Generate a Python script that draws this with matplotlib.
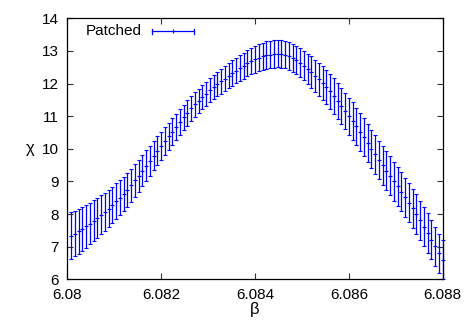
import numpy as np
import matplotlib
matplotlib.use("Agg")
import matplotlib.pyplot as plt
from matplotlib.lines import Line2D

# ---- data ----
beta_start = 6.08008
beta_step = 0.00008
chi = [7.33, 7.40, 7.47, 7.55, 7.63, 7.71, 7.80, 7.88, 7.98, 8.07,
       8.17, 8.28, 8.39, 8.50, 8.61, 8.73, 8.88, 9.03, 9.18, 9.33,
       9.48, 9.63, 9.79, 9.94, 10.09, 10.24, 10.38, 10.52, 10.67, 10.82,
       10.96, 11.10, 11.24, 11.36, 11.47, 11.58, 11.68, 11.79, 11.89, 11.98,
       12.07, 12.15, 12.24, 12.32, 12.40, 12.47, 12.55, 12.62, 12.68, 12.74,
       12.79, 12.83, 12.87, 12.89, 12.91, 12.92, 12.91, 12.89, 12.85, 12.79,
       12.72, 12.64, 12.55, 12.45, 12.35, 12.24, 12.13, 12.02, 11.89, 11.76,
       11.61, 11.46, 11.31, 11.16, 11.00, 10.85, 10.69, 10.52, 10.35, 10.17,
       10.00, 9.83, 9.66, 9.49, 9.33, 9.17, 9.01, 8.85, 8.68, 8.52,
       8.35, 8.18, 8.00, 7.81, 7.61, 7.42, 7.21, 7.01, 6.80, 6.60]
chi_err = [0.72, 0.70, 0.69, 0.67, 0.66, 0.64, 0.63, 0.61, 0.60, 0.59,
           0.58, 0.56, 0.55, 0.54, 0.53, 0.52, 0.51, 0.50, 0.49, 0.48,
           0.47, 0.46, 0.45, 0.44, 0.43, 0.42, 0.42, 0.41, 0.40, 0.40,
           0.39, 0.39, 0.38, 0.38, 0.37, 0.37, 0.37, 0.37, 0.37, 0.37,
           0.38, 0.38, 0.38, 0.39, 0.39, 0.39, 0.40, 0.40, 0.40, 0.41,
           0.41, 0.41, 0.42, 0.42, 0.42, 0.42, 0.42, 0.42, 0.43, 0.43,
           0.43, 0.44, 0.45, 0.46, 0.48, 0.49, 0.51, 0.52, 0.53, 0.54,
           0.55, 0.55, 0.56, 0.56, 0.57, 0.57, 0.57, 0.58, 0.58, 0.58,
           0.59, 0.59, 0.59, 0.59, 0.60, 0.60, 0.60, 0.60, 0.60, 0.60,
           0.60, 0.60, 0.60, 0.60, 0.60, 0.60, 0.60, 0.60, 0.60, 0.60]
beta = beta_start + beta_step * np.arange(len(chi))

xticks = [6.08, 6.082, 6.084, 6.086, 6.088]
xtick_labels = ["6.08", "6.082", "6.084", "6.086", "6.088"]
yticks = [6, 7, 8, 9, 10, 11, 12, 13, 14]
series_label = "Patched"

plt.rcParams['font.family'] = ['Liberation Sans', 'DejaVu Sans']

W, H = 471, 330
fig = plt.figure(figsize=(W / 100, H / 100), dpi=100)
ax = fig.add_axes([67.3 / W, 1 - 279.3 / H, (442.7 - 67.3) / W, (279.3 - 18.3) / H])

blue = '#0000ff'
ax.errorbar(beta, chi, yerr=chi_err, fmt='+', color=blue, ms=3.5, mew=0.8,
            elinewidth=0.9, capsize=1.7, capthick=0.9, clip_on=False)

ax.set_xlim(6.08, 6.088)
ax.set_ylim(6, 14)
ax.set_xticks(xticks)
ax.set_xticklabels(xtick_labels)
ax.set_yticks(yticks)
ax.tick_params(direction='in', length=4, width=0.8, top=True, right=True,
               labelsize=11, pad=6, color='#333333')
for s in ax.spines.values():
    s.set_linewidth(0.9)
    s.set_color('black')

ax.set_xlabel('β', fontsize=12)
ax.xaxis.set_label_coords(0.5, -0.088)
ax.set_ylabel('χ', fontsize=12, rotation=0, va='center', ha='center')
ax.yaxis.set_label_coords(-0.099, 0.5)

# gnuplot-style key at top left
ax.text((141.7 - 67.3) / 375.4, (279.3 - 31) / 261, series_label, transform=ax.transAxes,
        ha='right', va='center', fontsize=11)
x0 = (152.3 - 67.3) / 375.4
x1 = (194.3 - 67.3) / 375.4
yk = (279.3 - 31) / 261
cap = 2.5 / 261
ax.add_line(Line2D([x0, x1], [yk, yk], transform=ax.transAxes, color=blue, lw=0.9))
for xx in (x0, x1):
    ax.add_line(Line2D([xx, xx], [yk - cap, yk + cap], transform=ax.transAxes, color=blue, lw=0.9))
ax.plot([(x0 + x1) / 2], [yk], '+', transform=ax.transAxes, color=blue, ms=3.5, mew=0.8)

fig.savefig('out.png', dpi=100)
